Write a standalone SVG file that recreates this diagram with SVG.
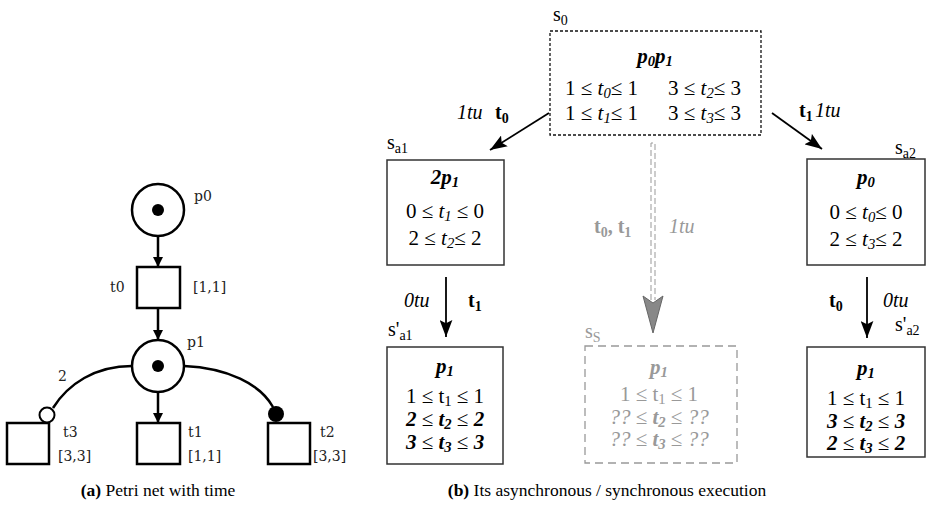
<svg xmlns="http://www.w3.org/2000/svg" width="933" height="509" viewBox="0 0 933 509">
<style>
  .pn { fill: #fff; stroke: #000; stroke-width: 2.5; }
  .tok { fill: #000; }
  .lbl { font-family: "DejaVu Serif", serif; font-size: 14px; fill: #222; }
  .t { font-family: "Liberation Serif", "Times New Roman", serif; font-size: 21px; fill: #000; }
  .st { font-family: "Liberation Serif", "Times New Roman", serif; font-size: 20px; fill: #000; }
  .g { fill: #999; }
  .bi { font-weight: bold; font-style: italic; }
  .i { font-style: italic; }
  .b { font-weight: bold; }
  .sub { font-size: 70%; }
  .box { fill: #fff; stroke: #333; stroke-width: 1.5; }
  .cap { font-family: "Liberation Serif", "Times New Roman", serif; font-size: 17.5px; fill: #000; }
  .c { stroke: #000; fill: none; }
</style>
<defs>
  <marker id="ah" viewBox="0 0 10 10" refX="10" refY="5" markerWidth="4" markerHeight="4.4" orient="auto" markerUnits="strokeWidth">
    <path d="M0,0 L10,5 L0,10 z" fill="#000"/>
  </marker>
  <marker id="ah2" viewBox="0 0 16 12" refX="16" refY="6" markerWidth="17" markerHeight="13" orient="auto" markerUnits="userSpaceOnUse">
    <path d="M0,0 L16,6 L0,12 L3,6 z" fill="#000"/>
  </marker>
</defs>

<!-- Left: Petri net -->
<g id="p0">
  <circle class="pn" cx="158" cy="210" r="26"/>
  <circle class="tok" cx="158" cy="210" r="6"/>
  <text class="lbl" x="194" y="201">p0</text>
</g>
<g id="t0">
  <rect class="pn" x="137" y="267" width="43" height="41"/>
  <text class="lbl" x="110" y="292">t0</text>
  <text class="lbl" x="193" y="292">[1,1]</text>
</g>
<g id="p1">
  <circle class="pn" cx="158" cy="366" r="26"/>
  <circle class="tok" cx="158" cy="366" r="6"/>
  <text class="lbl" x="187" y="347">p1</text>
</g>
<g id="t3">
  <rect class="pn" x="7" y="423" width="42" height="41"/>
  <text class="lbl" x="63" y="437">t3</text>
  <text class="lbl" x="58" y="461">[3,3]</text>
</g>
<g id="t1">
  <rect class="pn" x="137" y="423" width="43" height="41"/>
  <text class="lbl" x="188" y="437">t1</text>
  <text class="lbl" x="188" y="461">[1,1]</text>
</g>
<g id="t2">
  <rect class="pn" x="268" y="423" width="42" height="41"/>
  <text class="lbl" x="320" y="437">t2</text>
  <text class="lbl" x="313" y="461">[3,3]</text>
</g>

<!-- Right: states -->
<g id="s0">
  <text class="st" x="553" y="21">s<tspan class="sub" dy="4">0</tspan></text>
  <rect x="550" y="31" width="211" height="104" fill="#fff" stroke="#111" stroke-width="1.3" stroke-dasharray="3,2"/>
  <text class="t bi" x="655" y="63" text-anchor="middle">p<tspan class="sub" dy="3">0</tspan><tspan dy="-3">p</tspan><tspan class="sub" dy="3">1</tspan></text>
  <text class="t" x="565" y="95">1 ≤ <tspan class="i">t</tspan><tspan class="sub i" dy="3">0</tspan><tspan dy="-3">≤ 1</tspan></text>
  <text class="t" x="668" y="95">3 ≤ <tspan class="i">t</tspan><tspan class="sub i" dy="3">2</tspan><tspan dy="-3">≤ 3</tspan></text>
  <text class="t" x="565" y="120">1 ≤ <tspan class="i">t</tspan><tspan class="sub i" dy="3">1</tspan><tspan dy="-3">≤ 1</tspan></text>
  <text class="t" x="668" y="120">3 ≤ <tspan class="i">t</tspan><tspan class="sub i" dy="3">3</tspan><tspan dy="-3">≤ 3</tspan></text>
</g>

<g id="sa1">
  <text class="st" x="387" y="149">s<tspan class="sub" dy="4">a1</tspan></text>
  <rect class="box" x="387" y="160" width="117" height="105"/>
  <text class="t bi" x="445" y="184" text-anchor="middle">2p<tspan class="sub" dy="3">1</tspan></text>
  <text class="t" x="445" y="218" text-anchor="middle">0 ≤ <tspan class="i">t</tspan><tspan class="sub i" dy="3">1</tspan><tspan dy="-3"> ≤ 0</tspan></text>
  <text class="t" x="445" y="245" text-anchor="middle">2 ≤ <tspan class="i">t</tspan><tspan class="sub i" dy="3">2</tspan><tspan dy="-3">≤ 2</tspan></text>
</g>

<g id="s1a1">
  <text class="st" x="388" y="336">s'<tspan class="sub" dy="4">a1</tspan></text>
  <rect class="box" x="387" y="347" width="116" height="117"/>
  <text class="t bi" x="445" y="373" text-anchor="middle">p<tspan class="sub" dy="3">1</tspan></text>
  <text class="t" x="445" y="403" text-anchor="middle">1 ≤ t<tspan class="sub" dy="3">1</tspan><tspan dy="-3"> ≤ 1</tspan></text>
  <text class="t" x="445" y="426" text-anchor="middle"><tspan class="bi">2</tspan> ≤ <tspan class="bi">t</tspan><tspan class="sub bi" dy="3">2</tspan><tspan dy="-3"> ≤ </tspan><tspan class="bi">2</tspan></text>
  <text class="t" x="445" y="449" text-anchor="middle"><tspan class="bi">3</tspan> ≤ <tspan class="bi">t</tspan><tspan class="sub bi" dy="3">3</tspan><tspan dy="-3"> ≤ </tspan><tspan class="bi">3</tspan></text>
</g>

<g id="ss">
  <text class="st g" x="585" y="338">s<tspan class="sub" dy="4">S</tspan></text>
  <rect x="585" y="346" width="152" height="117" fill="#fff" stroke="#999" stroke-width="1.3" stroke-dasharray="8,5"/>
  <text class="t g bi" x="659" y="374" text-anchor="middle">p<tspan class="sub" dy="3">1</tspan></text>
  <text class="t g" x="659" y="401" text-anchor="middle">1 ≤ t<tspan class="sub" dy="3">1</tspan><tspan dy="-3"> ≤ 1</tspan></text>
  <text class="t g" x="659" y="424" text-anchor="middle"><tspan class="i">??</tspan> ≤ <tspan class="bi">t</tspan><tspan class="sub bi" dy="3">2</tspan><tspan dy="-3"> ≤ </tspan><tspan class="i">??</tspan></text>
  <text class="t g" x="659" y="446" text-anchor="middle"><tspan class="i">??</tspan> ≤ <tspan class="bi">t</tspan><tspan class="sub bi" dy="3">3</tspan><tspan dy="-3"> ≤ </tspan><tspan class="i">??</tspan></text>
</g>

<g id="sa2">
  <text class="st" x="895" y="154">s<tspan class="sub" dy="4">a2</tspan></text>
  <rect class="box" x="807" y="159" width="118" height="106"/>
  <text class="t bi" x="866" y="184" text-anchor="middle">p<tspan class="sub" dy="3">0</tspan></text>
  <text class="t" x="866" y="219" text-anchor="middle">0 ≤ <tspan class="i">t</tspan><tspan class="sub i" dy="3">0</tspan><tspan dy="-3">≤ 0</tspan></text>
  <text class="t" x="866" y="246" text-anchor="middle">2 ≤ <tspan class="i">t</tspan><tspan class="sub i" dy="3">3</tspan><tspan dy="-3">≤ 2</tspan></text>
</g>

<g id="s1a2">
  <text class="st" x="895" y="331">s'<tspan class="sub" dy="4">a2</tspan></text>
  <rect class="box" x="807" y="347" width="118" height="110"/>
  <text class="t bi" x="866" y="375" text-anchor="middle">p<tspan class="sub" dy="3">1</tspan></text>
  <text class="t" x="866" y="405" text-anchor="middle">1 ≤ t<tspan class="sub" dy="3">1</tspan><tspan dy="-3"> ≤ 1</tspan></text>
  <text class="t" x="866" y="428" text-anchor="middle"><tspan class="bi">3</tspan> ≤ <tspan class="bi">t</tspan><tspan class="sub bi" dy="3">2</tspan><tspan dy="-3"> ≤ </tspan><tspan class="bi">3</tspan></text>
  <text class="t" x="866" y="450" text-anchor="middle"><tspan class="bi">2</tspan> ≤ <tspan class="bi">t</tspan><tspan class="sub bi" dy="3">3</tspan><tspan dy="-3"> ≤ </tspan><tspan class="bi">2</tspan></text>
</g>

<!-- Connectors -->
<g id="connectors">
  <line class="c" x1="158" y1="236" x2="158" y2="267" stroke-width="2.5" marker-end="url(#ah)"/>
  <line class="c" x1="158" y1="308" x2="158" y2="340" stroke-width="2.5" marker-end="url(#ah)"/>
  <line class="c" x1="158" y1="392" x2="158" y2="423" stroke-width="2.5" marker-end="url(#ah)"/>
  <path class="c" d="M132,366 C95,366 68,384 53,408" stroke-width="2.5"/>
  <circle cx="47" cy="415" r="7.5" fill="#fff" stroke="#000" stroke-width="2"/>
  <text class="lbl" x="58" y="381">2</text>
  <path class="c" d="M184,366 C228,368 260,384 273,407" stroke-width="2.5"/>
  <circle cx="276" cy="414" r="8" fill="#000"/>

  <line class="c" x1="549" y1="113" x2="490" y2="150" stroke-width="1.8" marker-end="url(#ah2)"/>
  <text class="st i" x="457" y="119">1tu</text>
  <text class="st b" x="495" y="119">t<tspan class="sub" dy="4">0</tspan></text>

  <line class="c" x1="772" y1="113" x2="822" y2="149" stroke-width="1.8" marker-end="url(#ah2)"/>
  <text class="st b" x="799" y="117">t<tspan class="sub" dy="4">1</tspan></text>
  <text class="st i" x="815" y="117">1tu</text>

  <line class="c" x1="446" y1="277" x2="446" y2="337" stroke-width="1.8" marker-end="url(#ah2)"/>
  <text class="st i" x="404" y="307">0tu</text>
  <text class="st b" x="468" y="307">t<tspan class="sub" dy="4">1</tspan></text>

  <line class="c" x1="867" y1="277" x2="867" y2="338" stroke-width="1.8" marker-end="url(#ah2)"/>
  <text class="st b" x="829" y="307">t<tspan class="sub" dy="4">0</tspan></text>
  <text class="st i" x="883" y="307">0tu</text>

  <path d="M651,300 V143 H655 V300" fill="none" stroke="#999" stroke-width="1" stroke-dasharray="6,3"/>
  <path d="M643,296 L653,303 L663,296 L653,333 z" fill="#888" stroke="#666" stroke-width="1"/>
  <text class="st b g" x="594" y="233">t<tspan class="sub" dy="4">0</tspan><tspan dy="-4">, t</tspan><tspan class="sub" dy="4">1</tspan></text>
  <text class="st i g" x="669" y="233">1tu</text>
</g>

<text class="cap" x="158" y="496" text-anchor="middle"><tspan class="b">(a)</tspan> Petri net with time</text>
<text class="cap" x="607" y="496" text-anchor="middle"><tspan class="b">(b)</tspan> Its asynchronous / synchronous execution</text>
</svg>
